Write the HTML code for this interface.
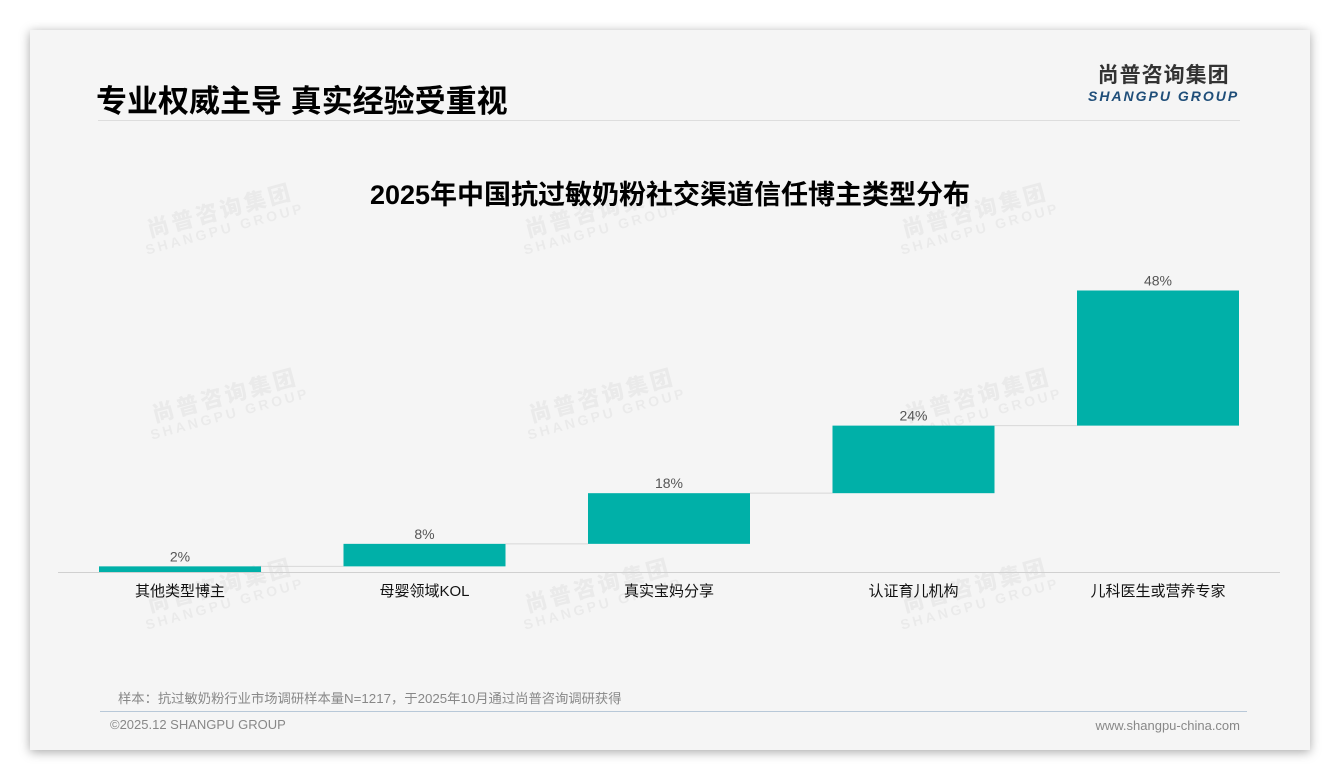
<!DOCTYPE html>
<html><head><meta charset="utf-8">
<style>
body{margin:0;width:1340px;height:780px;background:#fff;position:relative;overflow:hidden;font-family:"Liberation Sans","Noto Sans CJK SC",sans-serif}
#card{position:absolute;left:30px;top:30px;width:1280px;height:720px;background:#f5f5f5;box-shadow:0 2px 10px rgba(0,0,0,0.35)}
.wm{position:absolute;transform:rotate(-15deg);color:rgba(0,0,0,0.045);font-weight:bold;text-align:center;line-height:1}
.wm b{display:block;font-size:22px;letter-spacing:3px}
.wm i{display:block;font-size:14px;letter-spacing:3px;font-style:normal}
</style></head><body>
<div id="card"></div>
<div style="position:absolute;left:96px;top:76px;font-size:31px;font-weight:bold;color:#000">专业权威主导 真实经验受重视</div>
<div style="position:absolute;left:98px;top:120px;width:1142px;height:1px;background:#ddd"></div>
<div style="position:absolute;left:1088px;top:64px;text-align:center">
<div style="font-size:21px;font-weight:bold;color:#333;letter-spacing:1px;line-height:24px">尚普咨询集团</div>
<div style="font-size:14px;font-weight:bold;font-style:italic;color:#1f4e79;letter-spacing:2px;line-height:16px">SHANGPU GROUP</div></div>
<div style="position:absolute;left:0;width:1340px;top:173px;text-align:center;font-size:27px;font-weight:bold;color:#000">2025年中国抗过敏奶粉社交渠道信任博主类型分布</div>
<div id="wms"></div>
<svg id="chart" width="1340" height="780" style="position:absolute;left:0;top:0"></svg>
<div style="position:absolute;left:118px;top:688px;font-size:13.3px;color:#888">样本：抗过敏奶粉行业市场调研样本量N=1217，于2025年10月通过尚普咨询调研获得</div>
<div style="position:absolute;left:100px;top:711px;width:1147px;height:1px;background:#b8c8d8"></div>
<div style="position:absolute;left:110px;top:717px;font-size:13px;color:#888">©2025.12 SHANGPU GROUP</div>
<div style="position:absolute;right:100px;top:718px;font-size:13px;color:#888">www.shangpu-china.com</div>
<script>
const categories=["其他类型博主","母婴领域KOL","真实宝妈分享","认证育儿机构","儿科医生或营养专家"];
const values=[2,8,18,24,48];
const valueLabels=["2%","8%","18%","24%","48%"];
const NS="http://www.w3.org/2000/svg";
const svg=document.getElementById('chart');
const baseY=572,pxPer=2.815,x0=99,step=244.5,bw=162;
const y=v=>baseY-v*pxPer;
const xc=i=>x0+i*step;
function mk(t,a){const e=document.createElementNS(NS,t);for(const k in a)e.setAttribute(k,a[k]);svg.appendChild(e);return e;}
let cum=0;
values.forEach((v,i)=>{
 const top=y(cum+v),bot=y(cum);
 const r=mk('rect',{x:xc(i),y:top,width:bw,height:bot-top,fill:'#00b0a8'});
 
 
 if(i<values.length-1){const l=mk('line',{x1:xc(i)+bw,x2:xc(i+1),y1:top,y2:top,stroke:'#d8d8d8','stroke-width':1});
  
  }
 const t=mk('text',{x:xc(i)+bw/2,y:top-5,'text-anchor':'middle','font-size':14,fill:'#555'});
 t.textContent=valueLabels[i];
 
 
 const c=mk('text',{x:xc(i)+bw/2,y:596,'text-anchor':'middle','font-size':15,fill:'#111'});
 c.textContent=categories[i];
 
 
 cum+=v;
});
const ax=mk('line',{x1:58,x2:1280,y1:baseY+0.5,y2:baseY+0.5,stroke:'#d0d0d0','stroke-width':1});


const wmPos=[[140,200],[518,200],[895,200],[145,385],[522,385],[898,385],[140,575],[518,575],[895,575]];
const wd=document.getElementById('wms');
wmPos.forEach(p=>{const d=document.createElement('div');d.className='wm';d.style.left=p[0]+'px';d.style.top=p[1]+'px';
 d.innerHTML='<b>尚普咨询集团</b><i>SHANGPU GROUP</i>';
 
 
 wd.appendChild(d);});
</script>
</body></html>
